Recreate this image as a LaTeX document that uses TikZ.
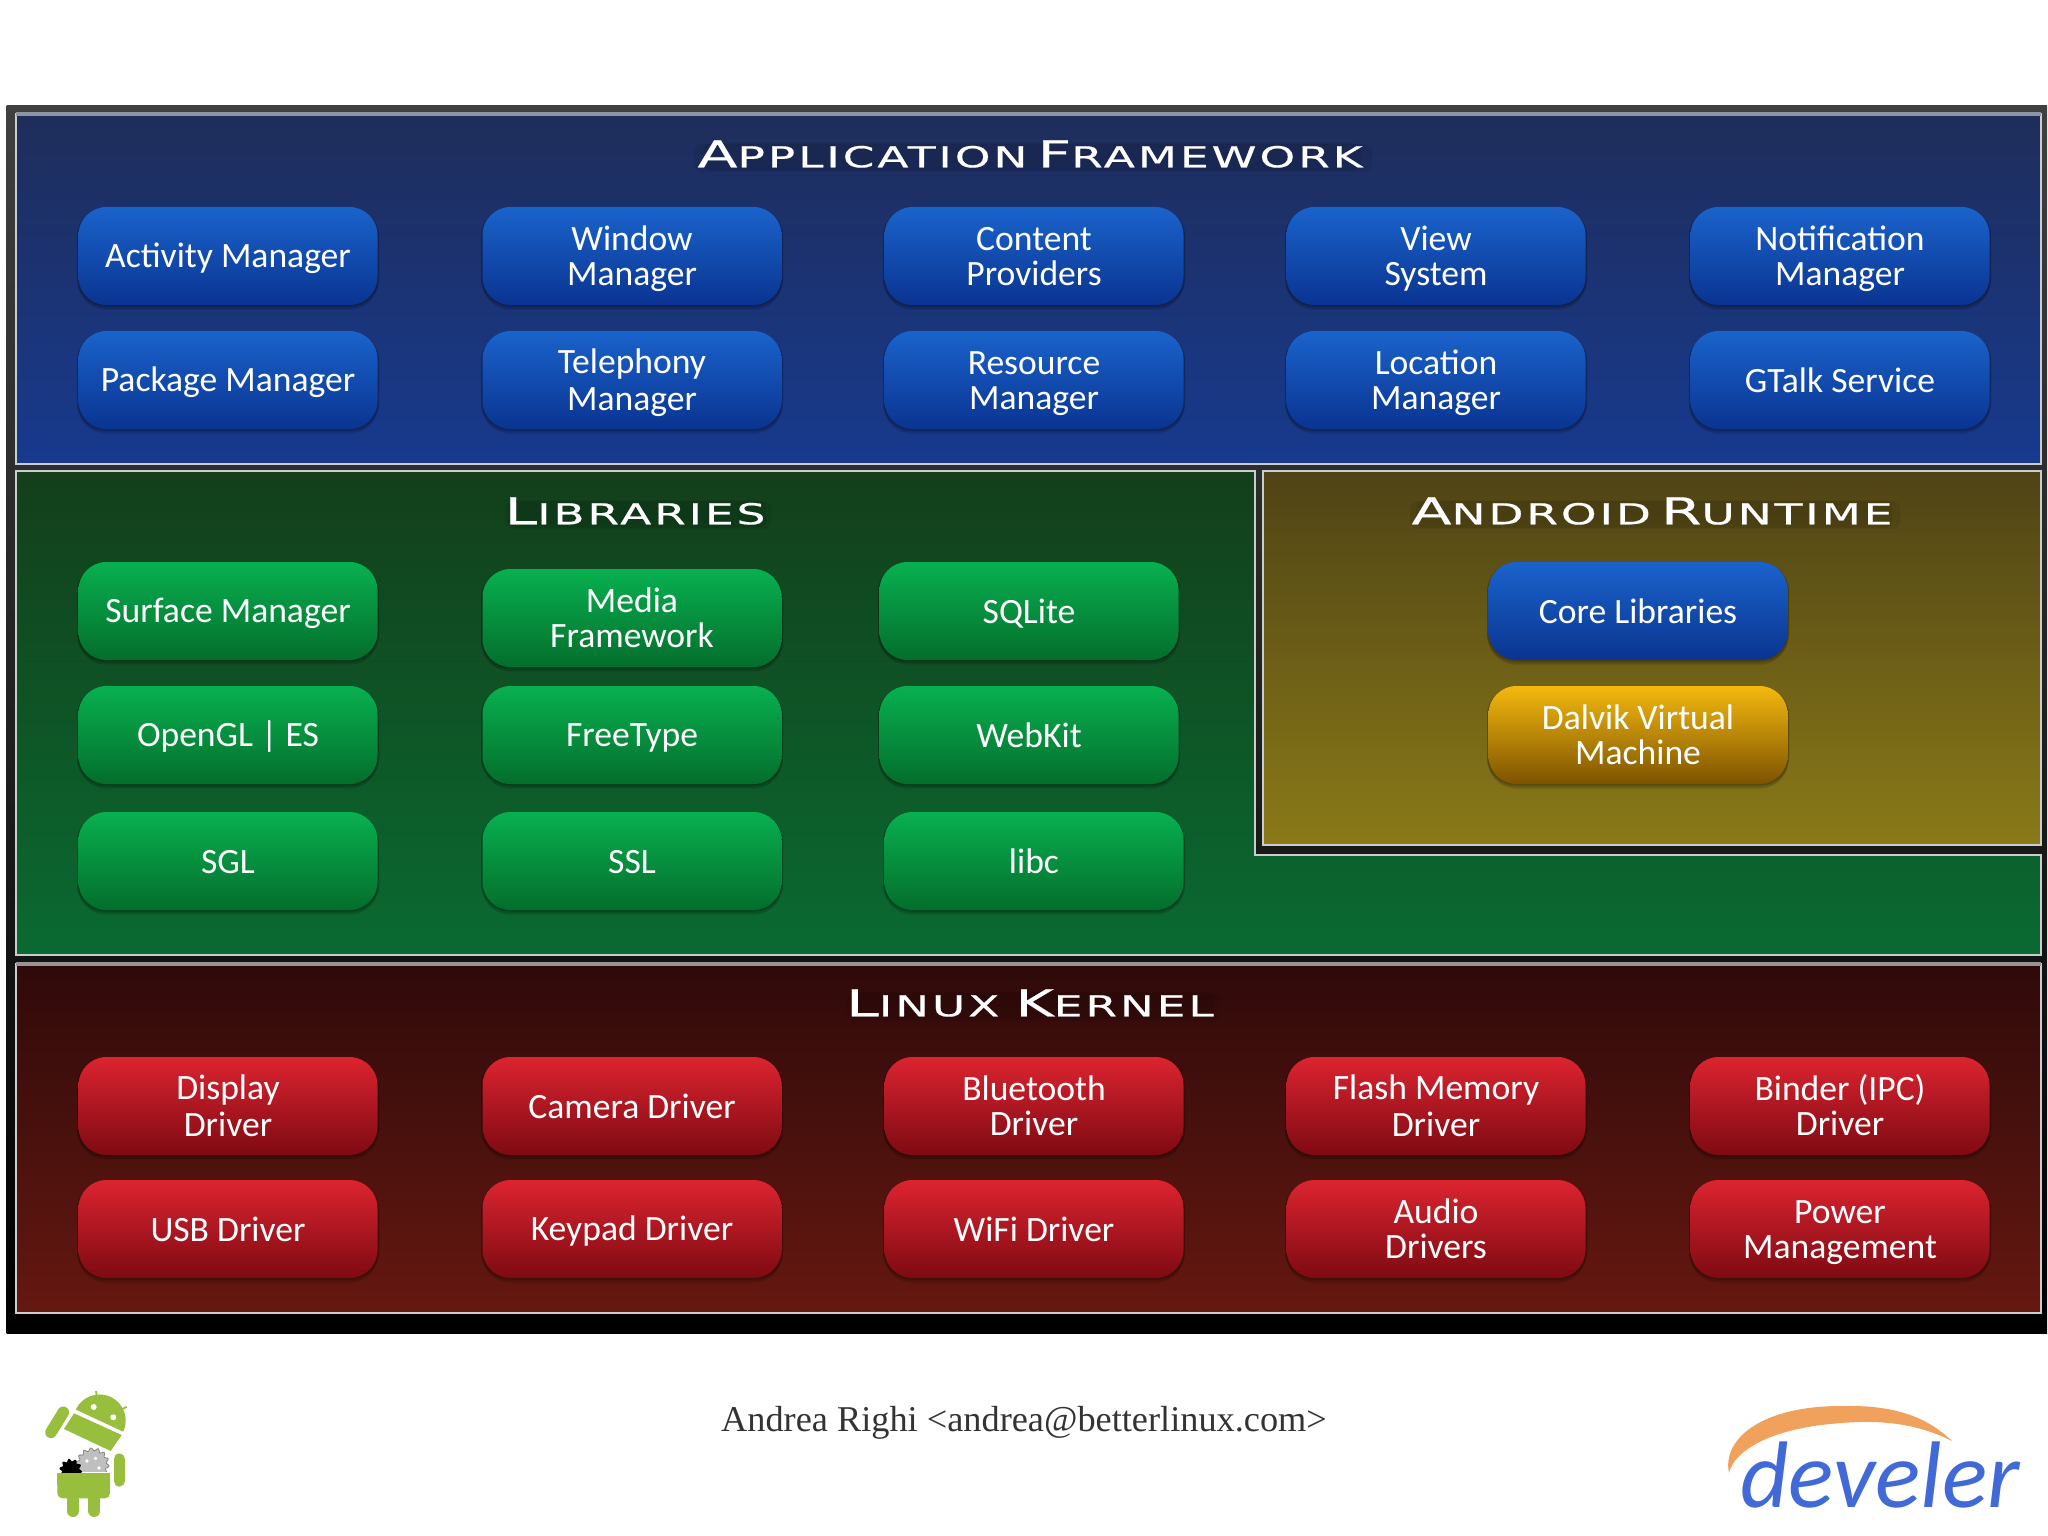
\documentclass[tikz,border=0pt]{standalone}
\usepackage{fontspec}
\usetikzlibrary{shadows}
\setmainfont{Liberation Serif}
\newfontfamily\btnfont{Carlito}
\newfontfamily\ttlfont[FakeStretch=1.58,LetterSpace=10,FakeBold=0.5]{DejaVu Sans}
\newfontfamily\logofont{Carlito}
\newcommand{\smc}[2]{{\fontsize{18.5}{19}\selectfont #1}{\fontsize{14.4}{19}\selectfont #2}}
\newcommand{\gapword}{\hspace{5pt}}
\newcommand{\st}{\rule[-2.75pt]{0pt}{17.5pt}}
\newcommand{\one}[1]{\st #1}
\newcommand{\two}[2]{\st #1\\\st #2}
\definecolor{droid}{HTML}{97BF3D}
\definecolor{BtnBT}{HTML}{1A63CC}\definecolor{BtnBM}{HTML}{1554B6}\definecolor{BtnBB}{HTML}{0A3490}
\definecolor{BtnGT}{HTML}{08B050}\definecolor{BtnGM}{HTML}{079A42}\definecolor{BtnGB}{HTML}{046E2C}
\definecolor{BtnRT}{HTML}{DC2430}\definecolor{BtnRM}{HTML}{BC1620}\definecolor{BtnRB}{HTML}{7E0A12}
\definecolor{BtnYT}{HTML}{F4B90F}\definecolor{BtnYM}{HTML}{C99409}\definecolor{BtnYB}{HTML}{7D5300}
\definecolor{PanelLine}{HTML}{C8CED0}
\definecolor{PBT}{HTML}{1F2D5A}\definecolor{PBB}{HTML}{173A8E}
\definecolor{PGT}{HTML}{133F1A}\definecolor{PGB}{HTML}{0A6A32}
\definecolor{PYT}{HTML}{4F4316}\definecolor{PYB}{HTML}{8A7A18}
\definecolor{PRT}{HTML}{2F0A0A}\definecolor{PRB}{HTML}{651810}
\definecolor{LogoOr}{HTML}{F0A15C}\definecolor{LogoBl}{HTML}{416AD8}
\tikzset{
 btn/.style={rectangle,rounded corners=14pt,minimum width=149.5pt,minimum height=49pt,inner sep=0pt,
   align=center,text=white,font=\btnfont\fontsize{17.8}{17.5}\selectfont,
   general shadow={shadow yshift=-2.5pt,shadow scale=1.0,fill=black,opacity=.08},
   general shadow={shadow yshift=-1.5pt,shadow scale=1.01,fill=black,opacity=.12},
   general shadow={shadow yshift=-.5pt,shadow scale=1.01,fill=black,opacity=.16}},
 bluebtn/.style={btn,top color=BtnBT,middle color=BtnBM,bottom color=BtnBB},
 greenbtn/.style={btn,top color=BtnGT,middle color=BtnGM,bottom color=BtnGB},
 redbtn/.style={btn,top color=BtnRT,middle color=BtnRM,bottom color=BtnRB},
 yellowbtn/.style={btn,top color=BtnYT,middle color=BtnYM,bottom color=BtnYB},
 ttl/.style={text=white,inner sep=0pt,font=\ttlfont,rounded corners=4pt,
   general shadow={shadow xshift=1.5pt,shadow yshift=-2pt,shadow scale=1.02,fill=black,opacity=.07},
   general shadow={shadow xshift=1pt,shadow yshift=-1.5pt,shadow scale=.99,fill=black,opacity=.07}},
 panel/.style={draw=PanelLine,line width=1pt}
}
\begin{document}
\begin{tikzpicture}[x=0.5pt,y=-0.5pt]
\useasboundingbox (0,0) rectangle (2048,1535);
\fill[white] (0,0) rectangle (2048,1535);
% frame
\shade[top color=black!75,bottom color=black] (6.5,106) rectangle (2047,1333);
% panels
\path[panel,top color=PBT,bottom color=PBB] (16,114) rectangle (2041,464);
\draw[draw=black!5!PanelLine!70!PBT,line width=1.6pt] (16,114) -- (2041,114);
\path[panel,top color=PGT,bottom color=PGB] (16,471) -- (1255,471) -- (1255,855) -- (2041,855) -- (2041,955) -- (16,955) -- cycle;
\path[panel,top color=PYT,bottom color=PYB] (1263,471) rectangle (2041,845);
\path[panel,top color=PRT,bottom color=PRB] (16,964) rectangle (2041,1313);
\draw[draw=PanelLine!70!PRT,line width=1.6pt] (16,964) -- (2041,964);
% titles
\node[ttl] (tApp) at (1030,154) {\smc{A}{PPLICATION}\gapword\smc{F}{RAMEWORK}};
\node[ttl] (tLib) at (635,511) {\smc{L}{IBRARIES}};
\node[ttl] (tRun) at (1652,511) {\smc{A}{NDROID}\gapword\smc{R}{UNTIME}};
\node[ttl] (tKer) at (1030,1003) {\smc{L}{INUX}\hspace{8pt}\smc{K}{ERNEL}};
% application framework
\node[bluebtn] (activity) at (228,256) {\one{Activity Manager}};
\node[bluebtn] (window) at (632,256) {\two{Window}{Manager}};
\node[bluebtn] (content) at (1034,256) {\two{Content}{Providers}};
\node[bluebtn] (viewsys) at (1436,256) {\two{View}{System}};
\node[bluebtn] (notif) at (1840,256) {\two{Notification}{Manager}};
\node[bluebtn] (package) at (228,380) {\one{Package Manager}};
\node[bluebtn] (telephony) at (632,380) {\two{Telephony}{Manager}};
\node[bluebtn] (resource) at (1034,380) {\two{Resource}{Manager}};
\node[bluebtn] (location) at (1436,380) {\two{Location}{Manager}};
\node[bluebtn] (gtalk) at (1840,380) {\one{GTalk Service}};
% libraries
\node[greenbtn] (surface) at (228,611) {\one{Surface Manager}};
\node[greenbtn] (media) at (632,618) {\two{Media}{Framework}};
\node[greenbtn] (sqlite) at (1029,611) {\one{SQLite}};
\node[greenbtn] (opengl) at (228,735) {\one{OpenGL | ES}};
\node[greenbtn] (freetype) at (632,735) {\one{FreeType}};
\node[greenbtn] (webkit) at (1029,735) {\one{WebKit}};
\node[greenbtn] (sgl) at (228,861) {\one{SGL}};
\node[greenbtn] (ssl) at (632,861) {\one{SSL}};
\node[greenbtn] (libc) at (1034,861) {\one{libc}};
% runtime
\node[bluebtn] (core) at (1638,611) {\one{Core Libraries}};
\node[yellowbtn] (dalvik) at (1638,735) {\two{Dalvik Virtual}{Machine}};
% kernel
\node[redbtn] (display) at (228,1106) {\two{Display}{Driver}};
\node[redbtn] (camera) at (632,1106) {\one{Camera Driver}};
\node[redbtn] (bluetooth) at (1034,1106) {\two{Bluetooth}{Driver}};
\node[redbtn] (flash) at (1436,1106) {\two{Flash Memory}{Driver}};
\node[redbtn] (binder) at (1840,1106) {\two{Binder (IPC)}{Driver}};
\node[redbtn] (usb) at (228,1229) {\one{USB Driver}};
\node[redbtn] (keypad) at (632,1229) {\one{Keypad Driver}};
\node[redbtn] (wifi) at (1034,1229) {\one{WiFi Driver}};
\node[redbtn] (audio) at (1436,1229) {\two{Audio}{Drivers}};
\node[redbtn] (power) at (1840,1229) {\two{Power}{Management}};
% footer
\node[text=black!80,font=\fontsize{18.15}{20}\selectfont,inner sep=0pt] (author) at (1024,1422.5) {Andrea Righi <andrea@betterlinux.com>};
% android logo
\begin{scope}
\clip (40,1380) rectangle (140,1471);
\draw[fill=black!25,draw=black!55,line width=.3pt] plot[samples=113,domain=0:360] ({92.7+(15+1.5*sin(14*\x))*cos(\x)},{1464.3+(15+1.5*sin(14*\x))*sin(\x)});
\fill[white] (87,1461) circle[radius=.9pt];
\fill[white] (95.5,1458.5) circle[radius=.9pt];
\fill[white] (99,1468) circle[radius=.9pt];
\end{scope}
\begin{scope}
\clip (40,1380) rectangle (140,1473);
\fill[black] plot[samples=73,domain=0:360] ({70.7+(10+1.4*sin(10*\x))*cos(\x)},{1470+(10+1.4*sin(10*\x))*sin(\x)});
\end{scope}
\fill[droid,rounded corners=2.5pt] (57.3,1473) -- (110,1473) -- (110,1498.3) -- (57.3,1498.3) -- cycle;
\fill[droid] (57.3,1473) rectangle (110,1485);
\draw[droid,line width=6pt,line cap=round] (73,1497) -- (73,1511);
\draw[droid,line width=6pt,line cap=round] (94.3,1497) -- (94.3,1511);
\draw[droid,line width=5.6pt,line cap=round] (119.3,1459) -- (119.3,1481);
\draw[droid,line width=5.8pt,line cap=round] (63.3,1412.3) -- (51,1432.3);
\fill[droid] (74,1413.3) -- (121.7,1435) -- (110.7,1451) -- (64,1429) -- cycle;
\fill[droid] (123.3,1431.7) arc[start angle=-25,end angle=155,radius=13.1pt] -- cycle;
\fill[white] (93.7,1407) circle[radius=1.5pt];
\fill[white] (113.3,1417.3) circle[radius=1.5pt];
\draw[droid,line width=.9pt] (97.3,1399.5) -- (96,1391);
\draw[droid,line width=.9pt] (119.3,1410.7) -- (126.7,1406.7);
% develer logo
\fill[LogoOr] (1729,1472.7) .. controls (1722,1440) and (1760,1405) .. (1845,1406) .. controls (1900,1405) and (1930,1420) .. (1952,1441) .. controls (1910,1420) and (1870,1420) .. (1830,1424) .. controls (1770,1430) and (1735,1450) .. (1729,1472.7) -- cycle;
\node[text=LogoBl,font=\logofont\itshape\fontsize{47.3}{47}\selectfont,inner sep=0pt,anchor=base] (develer) at (1880,1507) {develer};
\end{tikzpicture}
\end{document}
